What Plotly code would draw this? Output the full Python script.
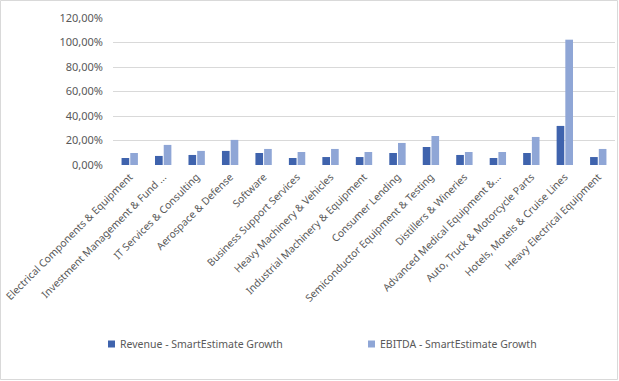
import plotly.graph_objects as go

categories = [
    "Electrical Components & Equipment",
    "Investment Management & Fund ...",
    "IT Services & Consulting",
    "Aerospace & Defense",
    "Software",
    "Business Support Services",
    "Heavy Machinery & Vehicles",
    "Industrial Machinery & Equipment",
    "Consumer Lending",
    "Semiconductor Equipment & Testing",
    "Distillers & Wineries",
    "Advanced Medical Equipment &...",
    "Auto, Truck & Motorcycle Parts",
    "Hotels, Motels & Cruise Lines",
    "Heavy Electrical Equipment",
]
revenue_growth = [5.7, 7.4, 8.2, 11.5, 9.8, 5.7, 6.5, 6.5, 9.8, 14.7, 8.2, 5.7, 9.8, 31.9, 6.5]
ebitda_growth = [9.8, 16.4, 11.5, 20.5, 13.1, 10.6, 13.1, 10.6, 18.0, 23.7, 10.6, 10.6, 22.9, 102.3, 13.1]
y_ticks = [0, 20, 40, 60, 80, 100, 120]
y_tick_labels = ["0,00%", "20,00%", "40,00%", "60,00%", "80,00%", "100,00%", "120,00%"]
series_names = ["Revenue - SmartEstimate Growth", "EBITDA - SmartEstimate Growth"]
series_colors = ["#3F63AD", "#8FA6D6"]

FONT = "Noto Sans"
GRAY = "#595959"

W, H = 619, 381
L, R, T, B = 113, 4, 18, 216
pw = W - L - R
ph = H - T - B
y0px = H - B  # pixel row of zero line


def px_x(x):
    return (x - L) / pw


def px_y(y):
    return (y0px - y) / ph


fig = go.Figure()
for vals, name, col in zip([revenue_growth, ebitda_growth], series_names, series_colors):
    fig.add_trace(go.Bar(x=categories, y=vals, name=name,
                         marker=dict(color=col, line=dict(width=0))))

shapes = [dict(type="rect", xref="paper", yref="paper",
               x0=px_x(0.5), x1=px_x(W - 1.5), y0=px_y(H - 1.5), y1=px_y(0.5),
               line=dict(color="#d9d9d9", width=1), fillcolor="rgba(0,0,0,0)", layer="above")]
annotations = []
legend_x = [108, 368]
for lx, name, col in zip(legend_x, series_names, series_colors):
    shapes.append(dict(type="rect", xref="paper", yref="paper",
                       x0=px_x(lx), x1=px_x(lx + 7), y0=px_y(347.5), y1=px_y(340.5),
                       line=dict(width=0), fillcolor=col, layer="above"))
    annotations.append(dict(text=name, xref="paper", yref="paper", x=px_x(lx + 9.5), y=px_y(344),
                            xanchor="left", yanchor="middle", showarrow=False,
                            font=dict(family=FONT, size=10.5, color=GRAY)))

fig.update_layout(
    width=W, height=H,
    margin=dict(l=L, r=R, t=T, b=B, autoexpand=False),
    paper_bgcolor="white", plot_bgcolor="white",
    barmode="group", bargap=0.48, bargroupgap=0.12,
    font=dict(family=FONT, color=GRAY, size=11),
    showlegend=False,
    xaxis=dict(tickangle=-45, tickfont=dict(family=FONT, size=10.3, color=GRAY), showline=False,
               ticks="", showgrid=False, ticklabelstandoff=3),
    yaxis=dict(range=[0, 120], tickvals=y_ticks, ticktext=y_tick_labels,
               showgrid=True, gridcolor="#d9d9d9", gridwidth=1, zeroline=False,
               tickfont=dict(size=11, color=GRAY), ticks="", ticklen=0, ticklabelstandoff=9),
    shapes=shapes,
    annotations=annotations,
)

fig.write_html("out.html", post_script="document.body.style.margin='0';",
               config={"displayModeBar": False})
